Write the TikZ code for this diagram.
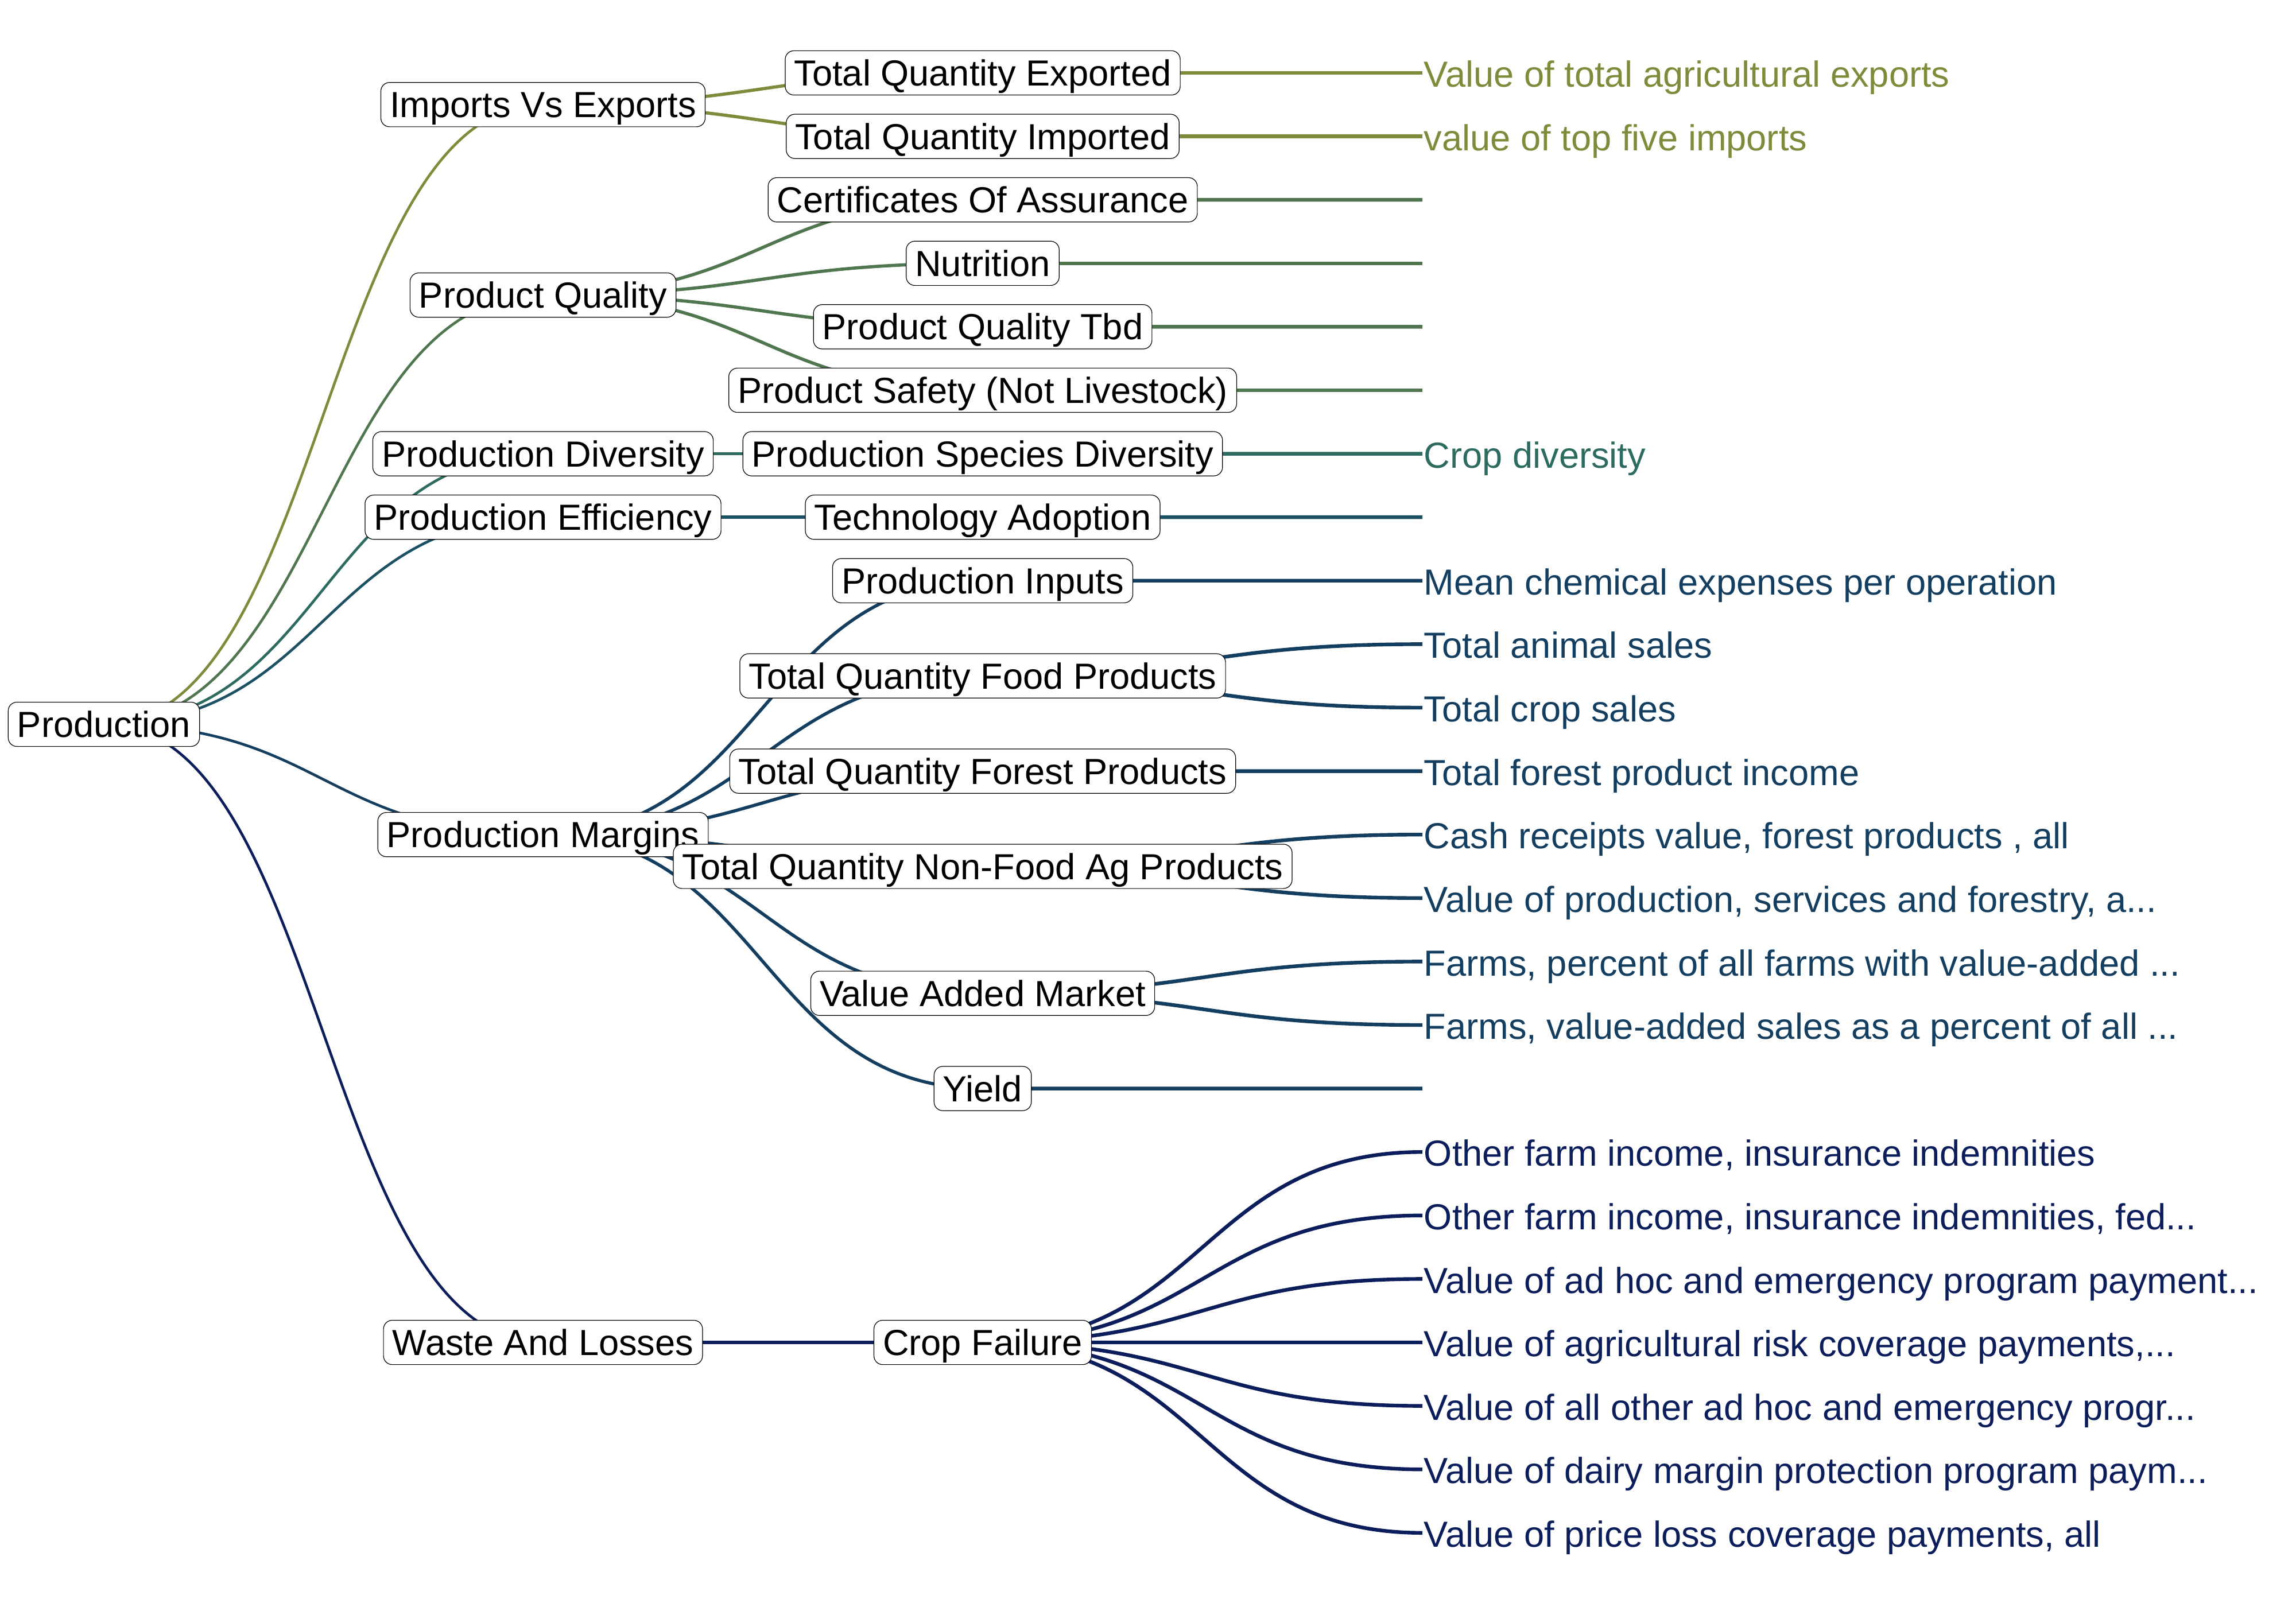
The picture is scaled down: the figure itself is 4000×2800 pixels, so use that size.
\documentclass[tikz,border=0pt]{standalone}
\usepackage{fontspec}
\setmainfont{Liberation Sans}
\newcommand{\lblfont}{\fontsize{15.8pt}{18pt}\selectfont}
\definecolor{cimp}{HTML}{7F8A3B}
\definecolor{cqual}{HTML}{50764F}
\definecolor{cdiv}{HTML}{2D6A5F}
\definecolor{ceff}{HTML}{1B5163}
\definecolor{cmar}{HTML}{143E60}
\definecolor{cwas}{HTML}{0B1D5B}
\pgfdeclarelayer{bg}
\pgfsetlayers{bg,main}
\begin{document}
\begin{tikzpicture}[x=0.25pt,y=-0.25pt,
  nbox/.style={draw=black,line width=0.3pt,fill=white,rounded corners=3.8pt,
    inner xsep=3.9pt,inner ysep=4pt,text height=11.3pt,text depth=0pt,font=\lblfont},
  leaf/.style={anchor=west,inner xsep=0.5pt,inner ysep=0pt,text height=11.3pt,
    text depth=0pt,font=\lblfont,yshift=-0.5pt},
  e0/.style={line width=1.15pt},
  e1/.style={line width=1.4pt},
  e2/.style={line width=1.6pt},
  diag/.style={to path={.. controls +(383,0) and +(-383,0) .. (\tikztotarget)}}
]
\useasboundingbox (0,0) rectangle (4000,2800);

% leaf coordinates
\foreach \i in {0,...,23} {\coordinate (l\i) at (2478,{127+110.6*\i});}

% root and level 1
\node[nbox] (root) at (181,1262) {Production};
\node[nbox] (ie) at (946,182.3) {Imports Vs Exports};
\node[nbox] (pq) at (946,514.1) {Product Quality};
\node[nbox] (pd) at (946,790.6) {Production Diversity};
\node[nbox] (pe) at (946,901.2) {Production Efficiency};
\node[nbox] (pm) at (946,1454.2) {Production Margins};
\node[nbox] (wl) at (946,2339) {Waste And Losses};

% level 2
\node[nbox] (tqe) at (1712,127) {Total Quantity Exported};
\node[nbox] (tqi) at (1712,237.6) {Total Quantity Imported};
\node[nbox] (coa) at (1712,348.2) {Certificates Of Assurance};
\node[nbox] (nut) at (1712,458.8) {Nutrition};
\node[nbox] (pqt) at (1712,569.4) {Product Quality Tbd};
\node[nbox] (psa) at (1712,680) {Product Safety (Not Livestock)};
\node[nbox] (psd) at (1712,790.6) {Production Species Diversity};
\node[nbox] (tad) at (1712,901.2) {Technology Adoption};
\node[nbox] (pin) at (1712,1011.8) {Production Inputs};
\node[nbox] (tqf) at (1712,1177.7) {Total Quantity Food Products};
\node[nbox] (tqo) at (1712,1343.6) {Total Quantity Forest Products};
\node[nbox] (tqn) at (1712,1509.5) {Total Quantity Non-Food Ag Products};
\node[nbox] (vam) at (1712,1730.7) {Value Added Market};
\node[nbox] (yld) at (1712,1896.6) {Yield};
\node[nbox] (cf) at (1712,2339) {Crop Failure};

% leaf labels
\node[leaf,text=cimp] (t0) at (l0) {Value of total agricultural exports};
\node[leaf,text=cimp] (t1) at (l1) {value of top five imports};
\node[leaf,text=cdiv] (t6) at (l6) {Crop diversity};
\node[leaf,text=cmar] (t8) at (l8) {Mean chemical expenses per operation};
\node[leaf,text=cmar] (t9) at (l9) {Total animal sales};
\node[leaf,text=cmar] (t10) at (l10) {Total crop sales};
\node[leaf,text=cmar] (t11) at (l11) {Total forest product income};
\node[leaf,text=cmar] (t12) at (l12) {Cash receipts value, forest products , all};
\node[leaf,text=cmar] (t13) at (l13) {Value of production, services and forestry, a...};
\node[leaf,text=cmar] (t14) at (l14) {Farms, percent of all farms with value-added ...};
\node[leaf,text=cmar] (t15) at (l15) {Farms, value-added sales as a percent of all ...};
\node[leaf,text=cwas] (t17) at (l17) {Other farm income, insurance indemnities};
\node[leaf,text=cwas] (t18) at (l18) {Other farm income, insurance indemnities, fed...};
\node[leaf,text=cwas] (t19) at (l19) {Value of ad hoc and emergency program payment...};
\node[leaf,text=cwas] (t20) at (l20) {Value of agricultural risk coverage payments,...};
\node[leaf,text=cwas] (t21) at (l21) {Value of all other ad hoc and emergency progr...};
\node[leaf,text=cwas] (t22) at (l22) {Value of dairy margin protection program paym...};
\node[leaf,text=cwas] (t23) at (l23) {Value of price loss coverage payments, all};

\begin{pgfonlayer}{bg}
% root edges
\draw[e0,cimp] (root.center) to[diag] (ie.center);
\draw[e0,cqual] (root.center) to[diag] (pq.center);
\draw[e0,cdiv] (root.center) to[diag] (pd.center);
\draw[e0,ceff] (root.center) to[diag] (pe.center);
\draw[e0,cmar] (root.center) to[diag] (pm.center);
\draw[e0,cwas] (root.center) to[diag] (wl.center);
% level 1 -> level 2
\draw[e1,cimp] (ie.center) to[diag] (tqe.center);
\draw[e1,cimp] (ie.center) to[diag] (tqi.center);
\draw[e1,cqual] (pq.center) to[diag] (coa.center);
\draw[e1,cqual] (pq.center) to[diag] (nut.center);
\draw[e1,cqual] (pq.center) to[diag] (pqt.center);
\draw[e1,cqual] (pq.center) to[diag] (psa.center);
\draw[e1,cdiv] (pd.center) to[diag] (psd.center);
\draw[e1,ceff] (pe.center) to[diag] (tad.center);
\draw[e1,cmar] (pm.center) to[diag] (pin.center);
\draw[e1,cmar] (pm.center) to[diag] (tqf.center);
\draw[e1,cmar] (pm.center) to[diag] (tqo.center);
\draw[e1,cmar] (pm.center) to[diag] (tqn.center);
\draw[e1,cmar] (pm.center) to[diag] (vam.center);
\draw[e1,cmar] (pm.center) to[diag] (yld.center);
\draw[e1,cwas] (wl.center) to[diag] (cf.center);
% level 2 -> leaves
\draw[e2,cimp] (tqe.center) to[diag] (l0);
\draw[e2,cimp] (tqi.center) to[diag] (l1);
\draw[e2,cqual] (coa.center) to[diag] (l2);
\draw[e2,cqual] (nut.center) to[diag] (l3);
\draw[e2,cqual] (pqt.center) to[diag] (l4);
\draw[e2,cqual] (psa.center) to[diag] (l5);
\draw[e2,cdiv] (psd.center) to[diag] (l6);
\draw[e2,ceff] (tad.center) to[diag] (l7);
\draw[e2,cmar] (pin.center) to[diag] (l8);
\draw[e2,cmar] (tqf.center) to[diag] (l9);
\draw[e2,cmar] (tqf.center) to[diag] (l10);
\draw[e2,cmar] (tqo.center) to[diag] (l11);
\draw[e2,cmar] (tqn.center) to[diag] (l12);
\draw[e2,cmar] (tqn.center) to[diag] (l13);
\draw[e2,cmar] (vam.center) to[diag] (l14);
\draw[e2,cmar] (vam.center) to[diag] (l15);
\draw[e2,cmar] (yld.center) to[diag] (l16);
\foreach \i in {17,...,23} {\draw[e2,cwas] (cf.center) to[diag] (l\i);}
\end{pgfonlayer}
\end{tikzpicture}
\end{document}
